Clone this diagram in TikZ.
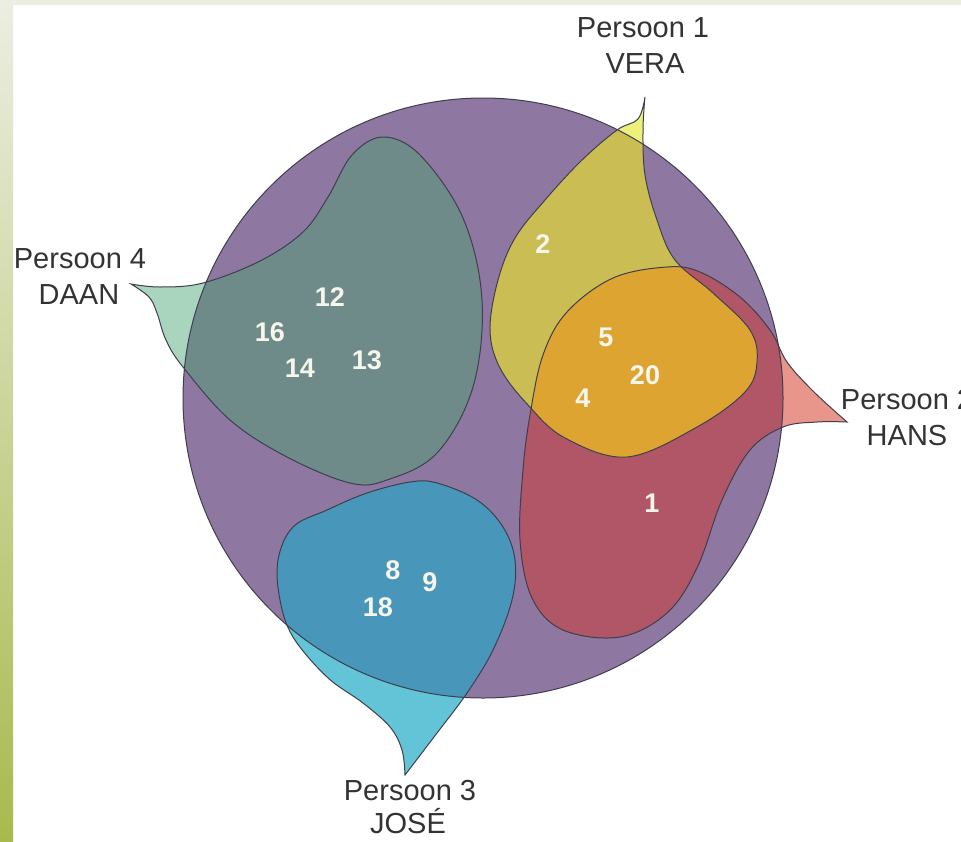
\documentclass[tikz,border=0pt]{standalone}
\usepackage{fontspec}
\setmainfont{Liberation Sans}

\definecolor{purplecol}{HTML}{8E78A2}
\definecolor{daanin}{HTML}{6E8B89}
\definecolor{daanout}{HTML}{A9D5BF}
\definecolor{verain}{HTML}{C9BD54}
\definecolor{veraout}{HTML}{EEF07C}
\definecolor{hansin}{HTML}{B05666}
\definecolor{hansout}{HTML}{E8968C}
\definecolor{josein}{HTML}{4896B9}
\definecolor{joseout}{HTML}{62C4D6}
\definecolor{bothcol}{HTML}{DDA432}
\definecolor{rimcol}{HTML}{3E3E4E}
\definecolor{lblcol}{HTML}{333333}
\definecolor{numcol}{HTML}{F6F6EC}
\definecolor{stripgreen}{HTML}{A8BA4E}
\definecolor{striplight}{HTML}{ECEEE2}

% outlines of the four persons and the whole group
\newcommand\grouppath{(483,398) circle [radius=300pt]}
\newcommand\daanpath{plot[smooth, tension=0.6] coordinates {(131,284) (160,287) (203,283) (260,261) (303,232) (328,197) (352,155) (383,137) (420,155) (463,218) (482,300) (473,387) (437,453) (387,480) (350,483) (287,457) (230,420) (183,367) (166,340) (157,313) (149,297) (131,284)} -- cycle}
\newcommand\verapath{plot[smooth, tension=0.6] coordinates {(645,97) (643,130) (645,175) (657,220) (675,260) (713,293) (750,330) (757,362) (745,392) (697,427) (627,457) (565,438) (528,405) (500,368) (490,330) (498,280) (515,238) (545,200) (582,160) (617,130) (638,119) (645,97)} -- cycle}
\newcommand\hanspath{plot[smooth, tension=0.6] coordinates {(847,422) (817,422) (783,427) (750,450) (722,500) (697,568) (667,613) (620,637) (563,630) (532,598) (520,540) (523,470) (530,415) (543,355) (567,312) (613,278) (667,267) (700,272) (740,297) (770,330) (787,362) (814,392) (847,422)} -- cycle}
\newcommand\josepath{plot[smooth, tension=0.6] coordinates {(405,775) (437,733) (467,693) (493,650) (512,600) (515,560) (503,527) (477,500) (437,483) (410,482) (367,493) (327,510) (293,527) (278,560) (280,600) (293,637) (327,677) (363,703) (390,727) (402,750) (405,775)} -- cycle}

\begin{document}
\begin{tikzpicture}[x=1pt,y=-1pt,
  rim/.style={draw=rimcol, line width=1pt},
  num/.style={text=numcol, inner sep=0pt, font=\fontsize{27}{27}\selectfont\bfseries},
  lbl/.style={text=lblcol, inner sep=0pt, anchor=base, font=\fontsize{29}{29}\selectfont}]
\useasboundingbox (0,0) rectangle (961,841);
\fill[white] (0,0) rectangle (961,841);
\fill[striplight] (0,0) rectangle (961,5);
\shade[top color=striplight, bottom color=stripgreen] (0,0) rectangle (13,841);

% group
\fill[purplecol] \grouppath;

% DAAN
\fill[daanout] \daanpath;
\begin{scope}
  \clip \grouppath;
  \fill[daanin] \daanpath;
\end{scope}

% JOSE
\fill[joseout] \josepath;
\begin{scope}
  \clip \grouppath;
  \fill[josein] \josepath;
\end{scope}

% HANS
\fill[hansout] \hanspath;
\begin{scope}
  \clip \grouppath;
  \fill[hansin] \hanspath;
\end{scope}

% VERA
\fill[veraout] \verapath;
\begin{scope}
  \clip \grouppath;
  \fill[verain] \verapath;
\end{scope}

% VERA and HANS
\begin{scope}
  \clip \verapath;
  \fill[bothcol] \hanspath;
\end{scope}

\draw[rim] \grouppath;
\draw[rim] \daanpath;
\draw[rim] \josepath;
\draw[rim] \hanspath;
\draw[rim] \verapath;

\node[num] (n12) at (330,297) {12};
\node[num] (n16) at (270,332) {16};
\node[num] (n14) at (300,368) {14};
\node[num] (n13) at (367,360) {13};
\node[num] (n2) at (543,244) {2};
\node[num] (n5) at (606,337) {5};
\node[num] (n20) at (645,375) {20};
\node[num] (n4) at (583,398) {4};
\node[num] (n1) at (652,503) {1};
\node[num] (n8) at (393,570) {8};
\node[num] (n9) at (430,582) {9};
\node[num] (n18) at (378,607) {18};

\node[lbl] (p1) at (643,37) {Persoon 1};
\node[lbl] (vera) at (645,73) {VERA};
\node[lbl] (p2) at (907,409) {Persoon 2};
\node[lbl] (hans) at (907,445) {HANS};
\node[lbl] (p3) at (410,800) {Persoon 3};
\node[lbl] (jose) at (408,833) {JOSÉ};
\node[lbl] (p4) at (80,268) {Persoon 4};
\node[lbl] (daan) at (79,304) {DAAN};
\end{tikzpicture}
\end{document}
